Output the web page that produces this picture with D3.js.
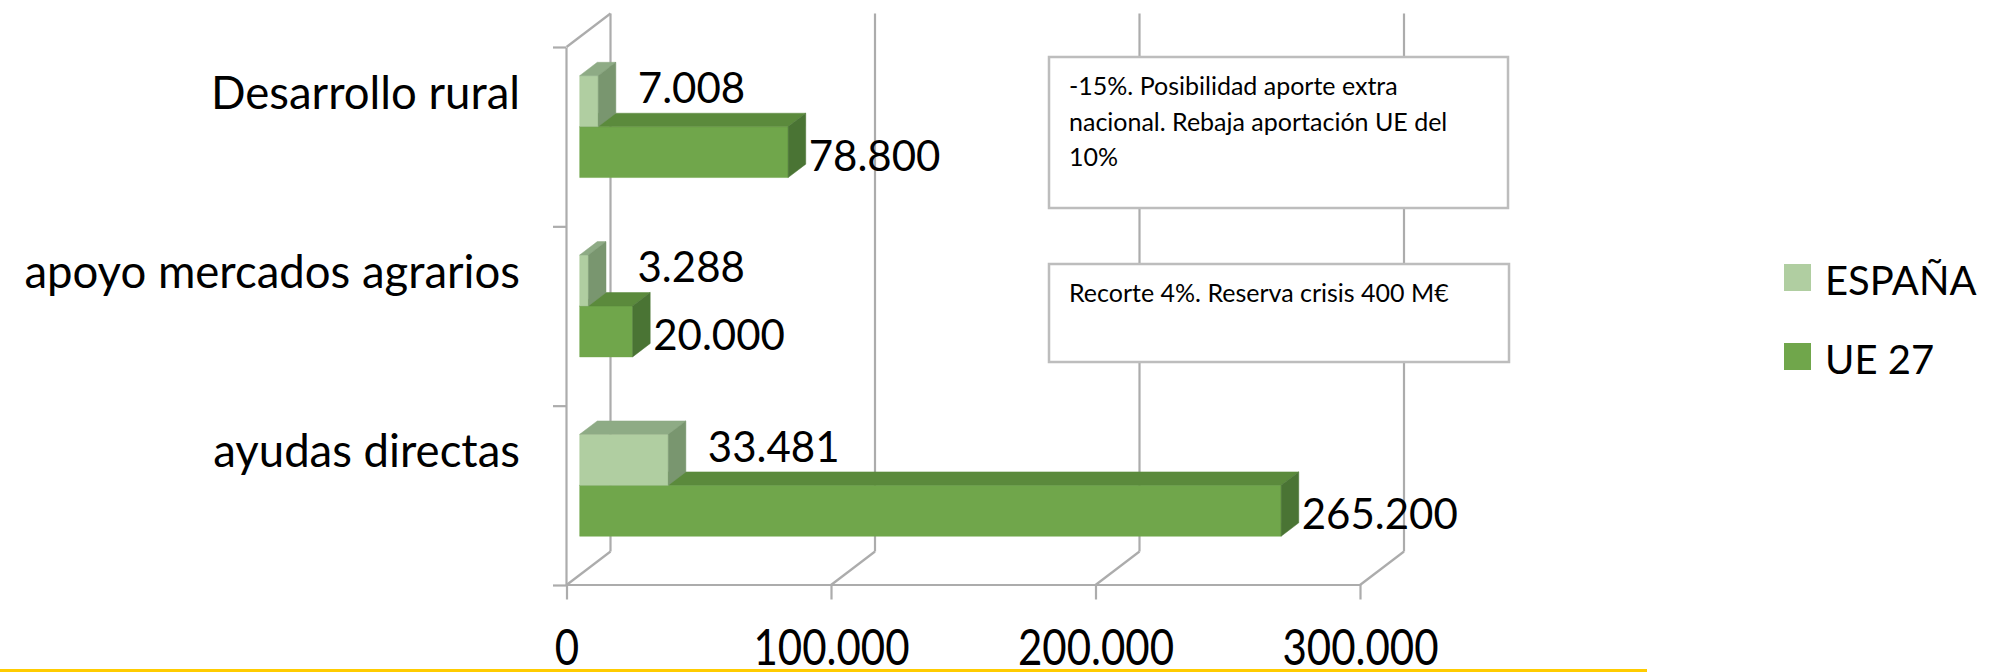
<!DOCTYPE html>
<html lang="es">
<head>
    <meta charset="UTF-8">
    <title>PAC: España y UE 27</title>
    <script src="https://cdn.jsdelivr.net/npm/d3@7/dist/d3.min.js"></script>
    <style>
        body{
            margin: 0;
            background: #fff;
            font-family: Lato, sans-serif;
        }
    </style>
</head>
<body>
<svg id="main" width="1991" height="672"></svg>
<script>

    // data
    const categories = ["Desarrollo rural", "apoyo mercados agrarios", "ayudas directas"];
    const series = ["ESPAÑA", "UE 27"];
    const espana = [7008, 3288, 33481];
    const ue27 = [78800, 20000, 265200];
    const xTicks = [0, 100000, 200000, 300000];
    const noteLines = [
        ["-15%. Posibilidad aporte extra", "nacional. Rebaja aportación UE del", "10%"],
        ["Recorte 4%. Reserva crisis 400 M€"]
    ];

    // front plane of the 3d box and its depth
    const front = {left: 566.5, right: 1360, top: 47, bottom: 585};
    const depth = {dx: 44, dy: -33.5};
    const barDepth = [0.3, 0.7];

    const colors = {
        "ESPAÑA": {front: "#b0cea1", top: "#8eab85", side: "#79966f"},
        "UE 27": {front: "#70a64b", top: "#5b8a3c", side: "#4a7434"}
    };
    const gridColor = "#acacac";

    // spanish number format: 265.200
    const es = d3.formatLocale({decimal: ",", thousands: ".", grouping: [3], currency: ["", " €"]});
    const fmt = es.format(",d");

    const svg = d3.select("svg#main");

    // Step 1: scales
    const x = d3.scaleLinear()
        .domain([0, 300000])
        .range([front.left, front.right]);

    const y = d3.scaleBand()
        .domain(categories)
        .range([front.top, front.bottom])
        .paddingInner(0.432)
        .paddingOuter(0.216);

    const ySub = d3.scaleBand()
        .domain(series)
        .range([0, y.bandwidth()]);

    const yEdge = d3.scaleLinear()
        .domain([0, categories.length])
        .range([front.top, front.bottom]);

    // Step 2: walls and gridlines
    const grid = svg.append("g")
        .attr("stroke", gridColor)
        .attr("stroke-width", 2.2)
        .attr("fill", "none");

    // back wall verticals
    grid.selectAll(".back")
        .data(xTicks)
        .enter()
        .append("line")
        .attr("x1", d => x(d) + depth.dx)
        .attr("x2", d => x(d) + depth.dx)
        .attr("y1", front.top + depth.dy)
        .attr("y2", front.bottom + depth.dy);

    // floor diagonals
    grid.selectAll(".floor")
        .data(xTicks)
        .enter()
        .append("line")
        .attr("x1", d => x(d))
        .attr("y1", front.bottom)
        .attr("x2", d => x(d) + depth.dx)
        .attr("y2", front.bottom + depth.dy);

    // top edge of the left wall
    grid.append("line")
        .attr("x1", x(0))
        .attr("y1", front.top)
        .attr("x2", x(0) + depth.dx)
        .attr("y2", front.top + depth.dy);

    // Step 3: axes
    const xAxis = svg.append("g")
        .attr("transform", `translate(0,${front.bottom - 0.5})`)
        .call(d3.axisBottom(x)
            .tickValues(xTicks)
            .tickSize(15)
            .tickSizeOuter(0)
            .tickPadding(52.5)
            .tickFormat(fmt));

    const edgeAxis = svg.append("g")
        .attr("transform", `translate(${front.left - 0.5},0)`)
        .call(d3.axisLeft(yEdge)
            .tickValues(d3.range(categories.length + 1))
            .tickSize(13)
            .tickSizeOuter(0)
            .tickFormat(""));

    const catAxis = svg.append("g")
        .attr("transform", `translate(${front.left - 0.5},0)`)
        .call(d3.axisLeft(y).tickSize(0).tickPadding(46));
    catAxis.select(".domain").remove();

    [xAxis, edgeAxis].forEach(g => {
        g.selectAll("path, line").attr("stroke", gridColor).attr("stroke-width", 2.2);
    });
    // tick labels of the slide are drawn a bit taller than wide
    xAxis.selectAll("text")
        .attr("dy", 0)
        .attr("transform", "scale(1,1.2)");
    catAxis.selectAll("text").attr("dy", -28);
    xAxis.attr("font-family", "Lato, sans-serif")
        .attr("font-size", 42)
        .selectAll("text").attr("fill", "#000");
    catAxis.attr("font-family", "Lato, sans-serif")
        .attr("font-size", 45.5)
        .selectAll("text").attr("fill", "#000");

    // Step 4: 3d bars
    const rows = categories.map((c, i) => ({cat: c, values: {"ESPAÑA": espana[i], "UE 27": ue27[i]}}));

    const fx = barDepth[0] * depth.dx, fy = barDepth[0] * depth.dy;
    const sx = (barDepth[1] - barDepth[0]) * depth.dx, sy = (barDepth[1] - barDepth[0]) * depth.dy;

    function faces(d, s) {
        const x0 = x(0) + fx, x1 = x(d.values[s]) + fx;
        const y0 = y(d.cat) + ySub(s) + fy, y1 = y0 + ySub.bandwidth();
        return [
            {fill: colors[s].front, pts: [[x0, y0], [x1, y0], [x1, y1], [x0, y1]]},
            {fill: colors[s].top, pts: [[x0, y0], [x1, y0], [x1 + sx, y0 + sy], [x0 + sx, y0 + sy]]},
            {fill: colors[s].side, pts: [[x1, y0], [x1 + sx, y0 + sy], [x1 + sx, y1 + sy], [x1, y1]]}
        ];
    }

    const bars = svg.append("g");
    rows.forEach(d => {
        // UE 27 first, ESPAÑA sits on top of it
        ["UE 27", "ESPAÑA"].forEach(s => {
            bars.append("g")
                .selectAll("polygon")
                .data(faces(d, s))
                .enter()
                .append("polygon")
                .attr("points", f => f.pts.map(p => p.join(",")).join(" "))
                .attr("fill", f => f.fill)
                .attr("stroke", f => f.fill)
                .attr("stroke-width", 0.5);
        });
    });

    // Step 5: value labels
    const labels = svg.append("g")
        .attr("font-family", "Lato, sans-serif")
        .attr("font-size", 42)
        .attr("fill", "#000");

    labels.selectAll(".es")
        .data(rows)
        .enter()
        .append("text")
        .attr("x", d => Math.max(x(d.values["ESPAÑA"]) + fx + sx + 22, x(0) + 71))
        .attr("y", d => y(d.cat) + fy + ySub.bandwidth() / 2 + 2)
        .text(d => fmt(d.values["ESPAÑA"]));

    labels.selectAll(".ue")
        .data(rows)
        .enter()
        .append("text")
        .attr("x", d => x(d.values["UE 27"]) + fx + sx + 3)
        .attr("y", d => y(d.cat) + ySub("UE 27") + ySub.bandwidth() + fy - 7)
        .text(d => fmt(d.values["UE 27"]));

    // Step 6: note boxes
    const boxes = [
        {x: 1049, y: 57, w: 459, h: 151},
        {x: 1049, y: 264, w: 460, h: 98}
    ];
    const notes = svg.append("g")
        .selectAll("g")
        .data(noteLines)
        .enter()
        .append("g")
        .attr("transform", (_, i) => `translate(${boxes[i].x},${boxes[i].y})`);

    notes.append("rect")
        .attr("width", (_, i) => boxes[i].w)
        .attr("height", (_, i) => boxes[i].h)
        .attr("fill", "#fff")
        .attr("stroke", "#bdbdbd")
        .attr("stroke-width", 2.5);

    notes.selectAll("text")
        .data(d => d)
        .enter()
        .append("text")
        .attr("x", 20)
        .attr("y", (_, j) => 38 + j * 35.5)
        .attr("font-family", "Lato, sans-serif")
        .attr("font-size", 25)
        .attr("fill", "#000")
        .text(t => t);

    // Step 7: legend
    const legend = svg.append("g")
        .selectAll("g")
        .data(series)
        .enter()
        .append("g")
        .attr("transform", (_, i) => `translate(1784,${264 + i * 79})`);

    legend.append("rect")
        .attr("width", 27)
        .attr("height", 27)
        .attr("fill", s => colors[s].front);

    legend.append("text")
        .attr("x", 41)
        .attr("y", 31)
        .attr("font-family", "Lato, sans-serif")
        .attr("font-size", 40)
        .attr("fill", "#000")
        .text(s => s);

    // yellow rule at the bottom of the slide
    svg.append("rect")
        .attr("x", 0)
        .attr("y", 669)
        .attr("width", 1647)
        .attr("height", 3)
        .attr("fill", "#ffcc00");

</script>
</body>
</html>
